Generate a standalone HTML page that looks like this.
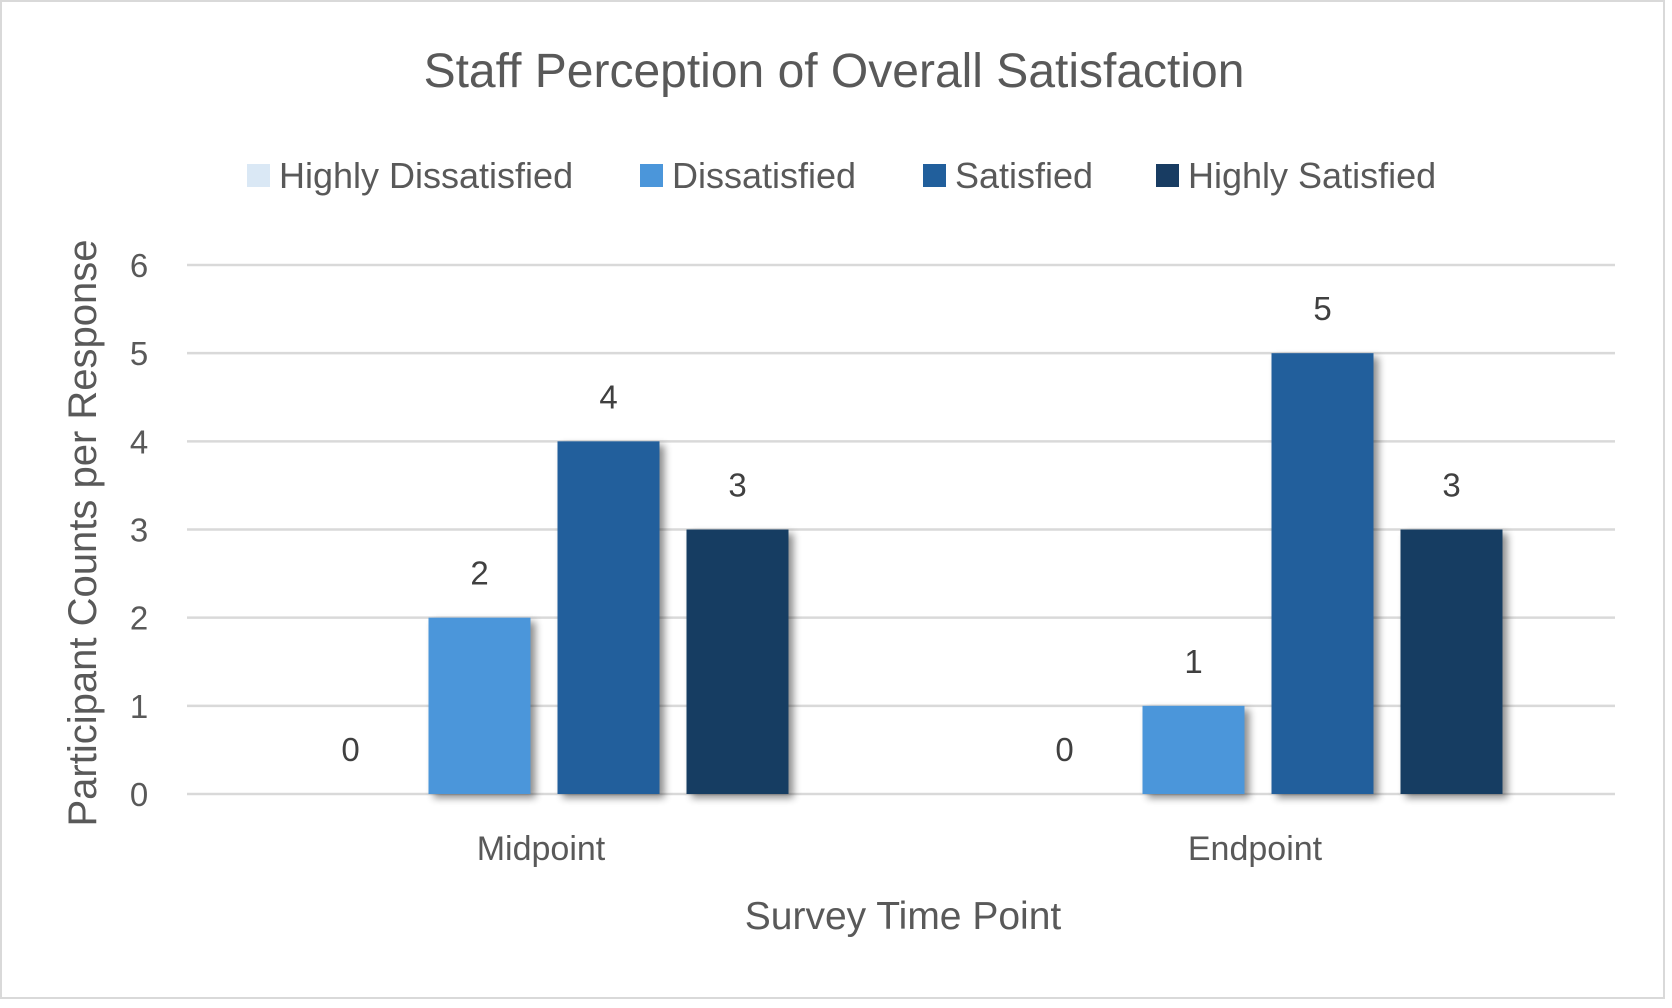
<!DOCTYPE html>
<html><head><meta charset="utf-8"><style>
html,body{margin:0;padding:0;background:#fff;}
svg{display:block;font-family:"Liberation Sans",sans-serif;}
</style></head><body>
<svg id="chart" width="1672" height="1008" viewBox="0 0 1672 1008">
<defs>
<filter id="sh" x="-20%" y="-20%" width="150%" height="140%">
<feGaussianBlur in="SourceAlpha" stdDeviation="4"/>
<feOffset dx="5" dy="4" result="b"/>
<feComponentTransfer><feFuncA type="linear" slope="0.45"/></feComponentTransfer>
<feMerge><feMergeNode/><feMergeNode in="SourceGraphic"/></feMerge>
</filter>
</defs>
<rect x="1" y="1" width="1663" height="997" fill="#fff" stroke="#d9d9d9" stroke-width="2"/>
<text x="834" y="87" text-anchor="middle" font-size="48" fill="#595959">Staff Perception of Overall Satisfaction</text>
<g id="legend"></g>
<g id="grid"></g>
<g id="yticks"></g>
<g id="bars"></g>
<g id="labels"></g>
<g id="xcats"></g>
<text x="903" y="929" text-anchor="middle" font-size="39" fill="#595959">Survey Time Point</text>
<text transform="translate(96,533) rotate(-90)" text-anchor="middle" font-size="40" fill="#595959">Participant Counts per Response</text>
</svg>
<script>
const categories = ["Midpoint", "Endpoint"];
const seriesNames = ["Highly Dissatisfied", "Dissatisfied", "Satisfied", "Highly Satisfied"];
const highlyDissatisfied = [0, 0];
const dissatisfied = [2, 1];
const satisfied = [4, 5];
const highlySatisfied = [3, 3];
const yTicks = [0, 1, 2, 3, 4, 5, 6];
const colors = ["#dae8f5", "#4b96da", "#215f9c", "#183c62"];

const NS = "http://www.w3.org/2000/svg";
const series = [highlyDissatisfied, dissatisfied, satisfied, highlySatisfied];
const plotL = 187, plotR = 1615, y0 = 794, yTop = 265, yMax = 6;
const yScale = v => y0 - (v / yMax) * (y0 - yTop);
const band = (plotR - plotL) / categories.length;
const xCenter = i => plotL + band * (i + 0.5);
const barW = 102, step = 129;
function mk(tag, attrs, parent, txt) {
  const e = document.createElementNS(NS, tag);
  for (const k in attrs) e.setAttribute(k, attrs[k]);
  if (txt !== undefined) e.textContent = txt;
  parent.appendChild(e);
  return e;
}
const grid = document.getElementById("grid"), yt = document.getElementById("yticks");
yTicks.forEach(t => {
  const l = mk("line", {x1: plotL, x2: plotR, y1: yScale(t), y2: yScale(t), stroke: "#d9d9d9", "stroke-width": 2.5}, grid);
  
  
  const tx = mk("text", {x: 139, y: yScale(t) + 12, "text-anchor": "middle", "font-size": 33, fill: "#595959"}, yt, String(t));
  
  
});
const bars = document.getElementById("bars"), labels = document.getElementById("labels"), xc = document.getElementById("xcats");
categories.forEach((c, i) => {
  series.forEach((s, j) => {
    const cx = xCenter(i) + (j - 1.5) * step;
    const v = s[i];
    if (v > 0) {
      const r = mk("rect", {x: cx - barW / 2, y: yScale(v), width: barW, height: y0 - yScale(v), fill: colors[j], filter: "url(#sh)"}, bars);
      
      
    }
    const lb = mk("text", {x: cx, y: yScale(v) - 33, "text-anchor": "middle", "font-size": 33, fill: "#404040"}, labels, String(v));
    
    
  });
  const ct = mk("text", {x: xCenter(i) - 3, y: 860, "text-anchor": "middle", "font-size": 34, fill: "#595959"}, xc, c);
  
  
});
const legend = document.getElementById("legend");
const legX = [247, 640, 923, 1156];
seriesNames.forEach((n, j) => {
  const g = mk("g", {}, legend);
  
  
  mk("rect", {x: legX[j], y: 164, width: 23, height: 23, fill: colors[j]}, g);
  mk("text", {x: legX[j] + 32, y: 188, "font-size": 36, fill: "#595959"}, g, n);
});
</script>
</body></html>
